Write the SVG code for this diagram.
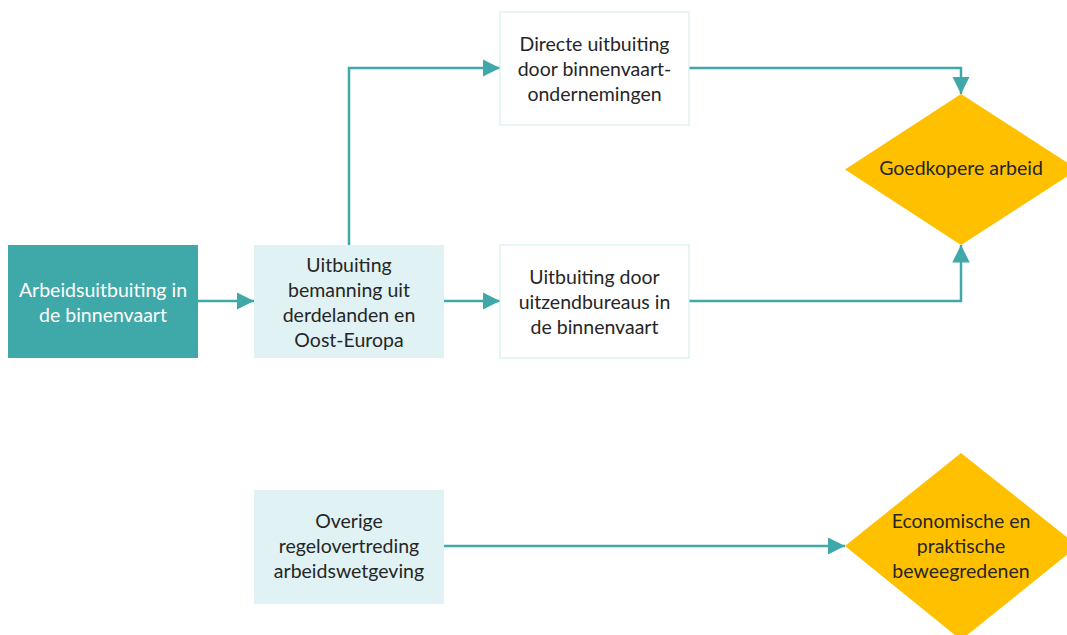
<svg xmlns="http://www.w3.org/2000/svg" width="1067" height="635" viewBox="0 0 1067 635">
  <defs>
    <style>
      .lbl { font-family: "Lato", "Open Sans", "Liberation Sans", sans-serif; font-size: 19.5px; fill: #262626; text-anchor: middle; }
      .lbl.inv { fill: #ffffff; }
      .conn { fill: none; stroke: #3fa8a8; stroke-width: 2.5; }
      .dark { fill: #3fa8a8; }
      .soft { fill: #e0f2f4; }
      .plain { fill: #ffffff; stroke: #d6eef0; stroke-width: 1.2; }
      .decision { fill: #ffc000; }
    </style>
    <marker id="arrow" viewBox="0 0 10 10" refX="10" refY="5" markerWidth="7" markerHeight="7" markerUnits="strokeWidth" orient="auto">
      <path d="M0,0 L10,5 L0,10 Z" fill="#3fa8a8"/>
    </marker>
  </defs>

  <rect width="1067" height="635" fill="#ffffff"/>

  <!-- connectors -->
  <g id="connectors">
    <line class="conn" x1="198" y1="301" x2="254" y2="301" marker-end="url(#arrow)"/>
    <line class="conn" x1="444" y1="301" x2="500" y2="301" marker-end="url(#arrow)"/>
    <polyline class="conn" points="349,245 349,68 500,68" marker-end="url(#arrow)"/>
    <polyline class="conn" points="689,68 961,68 961,94" marker-end="url(#arrow)"/>
    <polyline class="conn" points="689,301 961,301 961,245" marker-end="url(#arrow)"/>
    <line class="conn" x1="444" y1="546" x2="845" y2="546" marker-end="url(#arrow)"/>
  </g>

  <!-- nodes -->
  <g id="node-arbeidsuitbuiting">
    <rect class="dark" x="8" y="245" width="190" height="113"/>
    <text class="lbl inv" x="103" y="297">Arbeidsuitbuiting in</text>
    <text class="lbl inv" x="103" y="322">de binnenvaart</text>
  </g>

  <g id="node-bemanning">
    <rect class="soft" x="254" y="245" width="190" height="113"/>
    <text class="lbl" x="349" y="272">Uitbuiting</text>
    <text class="lbl" x="349" y="297">bemanning uit</text>
    <text class="lbl" x="349" y="322">derdelanden en</text>
    <text class="lbl" x="349" y="347">Oost-Europa</text>
  </g>

  <g id="node-directe">
    <rect class="plain" x="500" y="12" width="189" height="113"/>
    <text class="lbl" x="594.5" y="51">Directe uitbuiting</text>
    <text class="lbl" x="594.5" y="76">door binnenvaart-</text>
    <text class="lbl" x="594.5" y="101">ondernemingen</text>
  </g>

  <g id="node-uitzendbureaus">
    <rect class="plain" x="500" y="245" width="189" height="113"/>
    <text class="lbl" x="594.5" y="284">Uitbuiting door</text>
    <text class="lbl" x="594.5" y="309">uitzendbureaus in</text>
    <text class="lbl" x="594.5" y="334">de binnenvaart</text>
  </g>

  <g id="node-goedkoper">
    <polygon class="decision" points="961,94 1078,169.5 961,245 845,169.5"/>
    <text class="lbl" x="961" y="175">Goedkopere arbeid</text>
  </g>

  <g id="node-overige">
    <rect class="soft" x="254" y="490" width="190" height="114"/>
    <text class="lbl" x="349" y="528">Overige</text>
    <text class="lbl" x="349" y="553">regelovertreding</text>
    <text class="lbl" x="349" y="578">arbeidswetgeving</text>
  </g>

  <g id="node-economisch">
    <polygon class="decision" points="961,453 1078,546 961,640 845,546"/>
    <text class="lbl" x="961" y="528">Economische en</text>
    <text class="lbl" x="961" y="553">praktische</text>
    <text class="lbl" x="961" y="578">beweegredenen</text>
  </g>
</svg>
